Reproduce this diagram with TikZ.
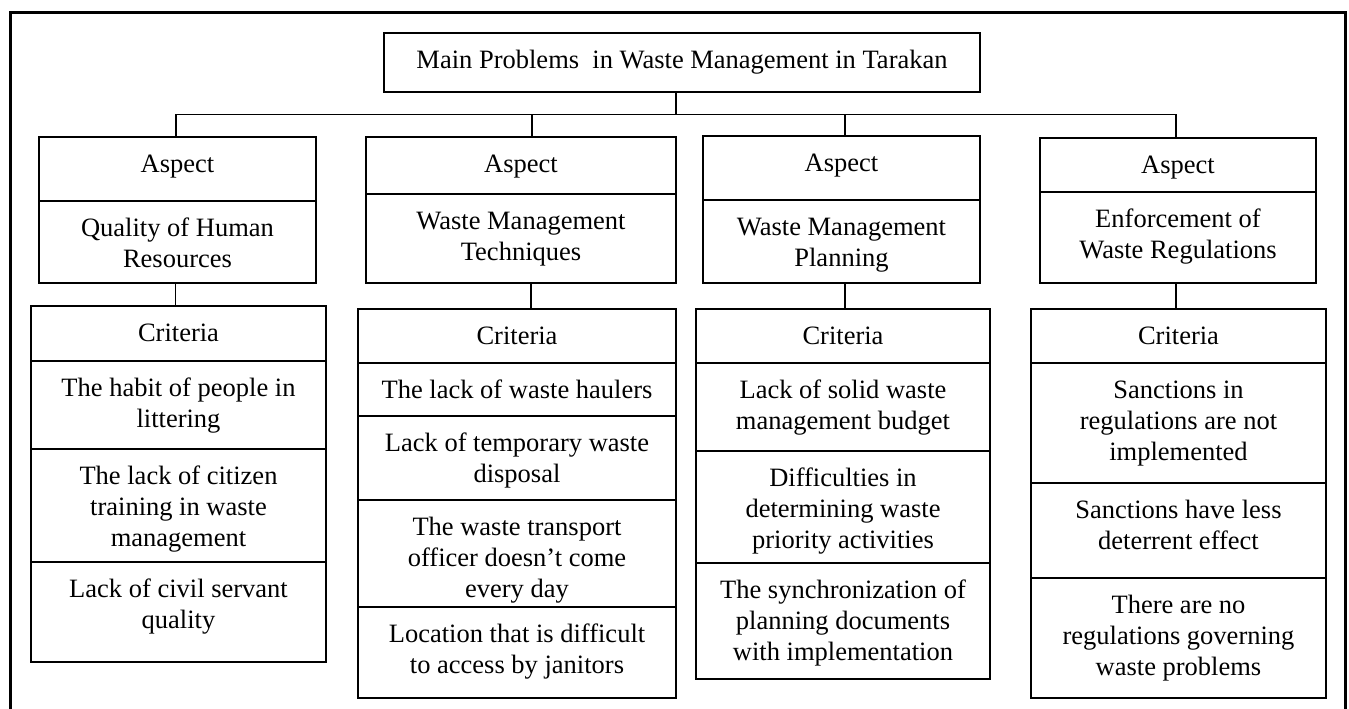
\documentclass[tikz,border=0pt]{standalone}
\usepackage{fontspec}
\setmainfont{Liberation Serif}
\newcommand\cell[6]{%
  \node[cell,minimum width={#3-#2},minimum height={#5-#4}] (#1) at ({(#2+#3)/2},{(#4+#5)/2}) {};
  \node[celltext] (#1t) at ([yshift=-14.3pt]#1.north) {\strut #6};}
\begin{document}
\begin{tikzpicture}[x=1pt,y=-1pt,
  cell/.style={draw, line width=1.3pt, rectangle, inner sep=0pt},
  celltext/.style={anchor=north, inner sep=0pt, align=center, font=\fontsize{26.5}{31}\selectfont},
  conn/.style={line width=1.2pt},
  outerframe/.style={line width=3pt}]
\useasboundingbox (0,0) rectangle (1349,709);
\draw[outerframe] (10,715) -- (10,13) -- (1345,13) -- (1345,715);
% title
\cell{title}{384}{980}{33}{92}{Main Problems\ \ in Waste Management in Tarakan}
% column 1
\cell{a1h}{39}{316}{137}{201}{Aspect}
\cell{a1}{39}{316}{201}{283}{Quality of Human\\Resources}
\cell{c1h}{31}{326}{306}{361}{Criteria}
\cell{c1a}{31}{326}{361}{449}{The habit of people in\\littering}
\cell{c1b}{31}{326}{449}{562}{The lack of citizen\\training in waste\\management}
\cell{c1c}{31}{326}{562}{662}{Lack of civil servant\\quality}
% column 2
\cell{a2h}{366}{676}{137}{194}{Aspect}
\cell{a2}{366}{676}{194}{283}{Waste Management\\Techniques}
\cell{c2h}{358}{676}{309}{363}{Criteria}
\cell{c2a}{358}{676}{363}{416}{The lack of waste haulers}
\cell{c2b}{358}{676}{416}{500}{Lack of temporary waste\\disposal}
\cell{c2c}{358}{676}{500}{607}{The waste transport\\officer doesn’t come\\every day}
\cell{c2d}{358}{676}{607}{698}{Location that is difficult\\to access by janitors}
% column 3
\cell{a3h}{703}{980}{136}{200}{Aspect}
\cell{a3}{703}{980}{200}{283}{Waste Management\\Planning}
\cell{c3h}{696}{990}{309}{363}{Criteria}
\cell{c3a}{696}{990}{363}{451}{Lack of solid waste\\management budget}
\cell{c3b}{696}{990}{451}{563}{Difficulties in\\determining waste\\priority activities}
\cell{c3c}{696}{990}{563}{679}{The synchronization of\\planning documents\\with implementation}
% column 4
\cell{a4h}{1040}{1316}{138}{192}{Aspect}
\cell{a4}{1040}{1316}{192}{283}{Enforcement of\\Waste Regulations}
\cell{c4h}{1031}{1326}{309}{363}{Criteria}
\cell{c4a}{1031}{1326}{363}{483}{Sanctions in\\regulations are not\\implemented}
\cell{c4b}{1031}{1326}{483}{578}{Sanctions have less\\deterrent effect}
\cell{c4c}{1031}{1326}{578}{698}{There are no\\regulations governing\\waste problems}
% connectors
\draw[conn] ([xshift=-1.5pt]a1h.north) -- ++(0,-22) coordinate (b1) -| ([xshift=-2pt]a4h.north);
\draw[conn] ([xshift=-6pt]title.south) -- ([xshift=-6pt]title.south |- b1);
\draw[conn] ([xshift=11pt]a2h.north) -- ([xshift=11pt]a2h.north |- b1);
\draw[conn] ([xshift=3.5pt]a3h.north) -- ([xshift=3.5pt]a3h.north |- b1);
\draw[conn] ([xshift=-2pt]a1.south) -- ([xshift=-2pt]a1.south |- c1h.north);
\draw[conn] ([xshift=10pt]a2.south) -- ([xshift=10pt]a2.south |- c2h.north);
\draw[conn] ([xshift=3.5pt]a3.south) -- ([xshift=3.5pt]a3.south |- c3h.north);
\draw[conn] ([xshift=-2pt]a4.south) -- ([xshift=-2pt]a4.south |- c4h.north);
\end{tikzpicture}
\end{document}
